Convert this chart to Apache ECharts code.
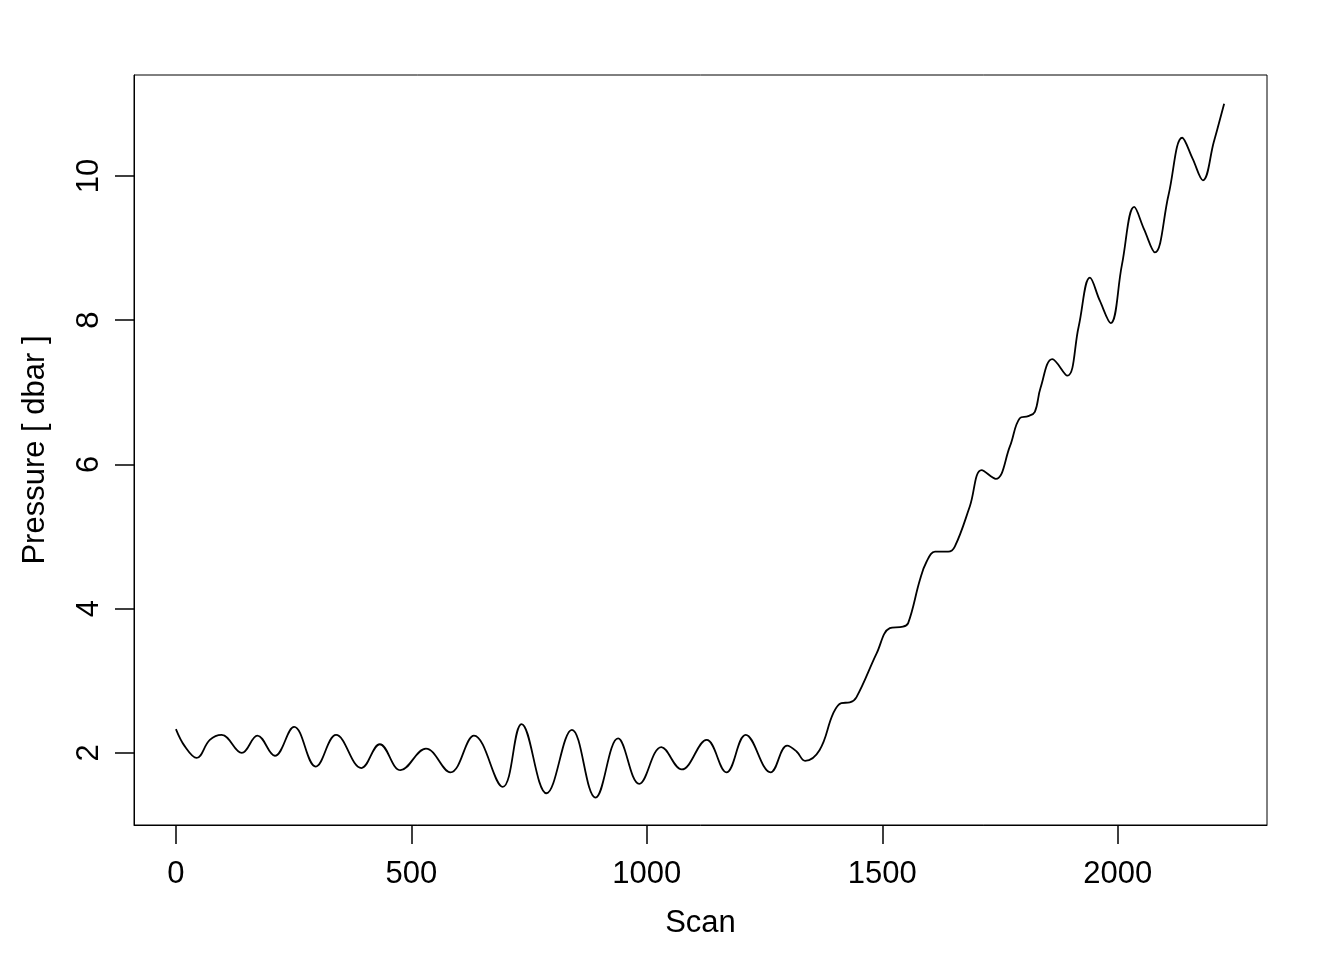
<!DOCTYPE html>
<html>
<head>
<meta charset="utf-8">
<script src="https://cdn.jsdelivr.net/npm/echarts@6/dist/echarts.min.js"></script>
<style>
  html, body { margin: 0; padding: 0; background: #fff; }
  #chart { width: 1344px; height: 960px; }
</style>
</head>
<body>
<div id="chart"></div>
<script>
// values
const scan = [0, 19, 44, 72, 97, 140, 173, 210, 251, 297, 340, 394, 433, 477, 531, 583, 633,
  694, 734, 787, 841, 891, 939, 984, 1031, 1074, 1127, 1169, 1210, 1263, 1298, 1318, 1336,
  1367, 1396, 1413, 1431, 1445, 1488, 1516, 1544, 1555, 1580, 1594, 1612, 1640, 1654, 1686,
  1711, 1741, 1771, 1792, 1810, 1824, 1836, 1861, 1893, 1917, 1941, 1962, 1985, 2009, 2035,
  2056, 2079, 2108, 2137, 2159, 2181, 2204, 2226]
const pressure = [2.33, 2.09, 1.93, 2.18, 2.25, 2.0, 2.24, 1.96, 2.36, 1.81, 2.25, 1.79, 2.12, 1.76, 2.06, 1.73, 2.24,
  1.53, 2.40, 1.44, 2.32, 1.38, 2.20, 1.57, 2.08, 1.77, 2.18, 1.73, 2.25, 1.73, 2.10, 2.02, 1.89,
  2.04, 2.55, 2.69, 2.70, 2.77, 3.38, 3.73, 3.75, 3.80, 4.40, 4.65, 4.79, 4.79, 4.86, 5.42,
  5.92, 5.80, 6.25, 6.64, 6.67, 6.73, 7.06, 7.46, 7.23, 7.91, 8.59, 8.27, 7.96, 8.77, 9.57,
  9.26, 8.94, 9.74, 10.53, 10.24, 9.94, 10.47, 11.0]
const xTicks = [0, 500, 1000, 1500, 2000]
const yTicks = [2, 4, 6, 8, 10]

const chart = echarts.init(document.getElementById('chart'))
const font = 'Liberation Sans, Arial, sans-serif'

const option = {
  animation: false,
  grid: {
    left: 134,
    top: 75,
    right: 77,
    bottom: 135,
    show: true,
    borderColor: '#000',
    borderWidth: 1
  },
  xAxis: {
    type: 'value',
    min: -89,
    max: 2317,
    name: 'Scan',
    nameLocation: 'middle',
    nameGap: 83,
    nameTextStyle: { color: '#000', fontSize: 31, fontFamily: font },
    axisLine: { show: true, onZero: false, lineStyle: { color: '#000', width: 1 } },
    splitLine: { show: false },
    axisTick: {
      show: true, length: 19, customValues: xTicks,
      lineStyle: { color: '#000', width: 1.5 }
    },
    axisLabel: {
      customValues: xTicks, margin: 34,
      formatter: v => String(v),
      color: '#000', fontSize: 31, fontFamily: font
    }
  },
  yAxis: {
    type: 'value',
    min: 1.0,
    max: 11.4,
    name: 'Pressure [ dbar ]',
    nameLocation: 'middle',
    nameGap: 83,
    nameTextStyle: { color: '#000', fontSize: 31, fontFamily: font },
    axisLine: { show: true, onZero: false, lineStyle: { color: '#000', width: 1 } },
    splitLine: { show: false },
    axisTick: {
      show: true, length: 19, customValues: yTicks,
      lineStyle: { color: '#000', width: 1.5 }
    },
    axisLabel: {
      customValues: yTicks, margin: 29, rotate: 90,
      formatter: v => String(v),
      color: '#000', fontSize: 31, fontFamily: font
    }
  },
  series: [
    {
      type: 'line',
      data: scan.map((s, i) => [s, pressure[i]]),
      smooth: 0.4,
      symbol: 'none',
      lineStyle: { color: '#000', width: 1.8 }
    }
  ]
}
chart.setOption(option)

window.addEventListener('resize', () => {
  chart && chart.resize()
})
</script>
</body>
</html>
